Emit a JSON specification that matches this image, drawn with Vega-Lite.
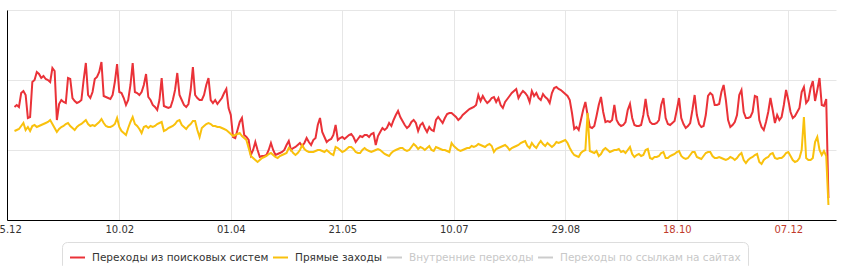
{
"$schema": "https://vega.github.io/schema/vega-lite/v6.json",
"width": 829,
"height": 210,
"autosize": {"type": "none"},
"padding": {"left": 7, "top": 10, "right": 8, "bottom": 46},
"background": "white",
"config": {"view": {"stroke": null}},
"data": {"values": [
{"date":"2013-12-25","a":1130,"b":890},{"date":"2013-12-26","a":1150,"b":900},{"date":"2013-12-27","a":1130,"b":910},{"date":"2013-12-28","a":1270,"b":940},{"date":"2013-12-29","a":1290,"b":970},{"date":"2013-12-30","a":1250,"b":900},{"date":"2013-12-31","a":1020,"b":930},
{"date":"2014-01-01","a":1030,"b":890},{"date":"2014-01-02","a":1380,"b":940},{"date":"2014-01-03","a":1400,"b":950},{"date":"2014-01-04","a":1480,"b":930},{"date":"2014-01-05","a":1460,"b":940},{"date":"2014-01-06","a":1420,"b":950},{"date":"2014-01-07","a":1440,"b":960},{"date":"2014-01-08","a":1410,"b":970},{"date":"2014-01-09","a":1400,"b":980},{"date":"2014-01-10","a":1380,"b":1000},{"date":"2014-01-11","a":1520,"b":960},{"date":"2014-01-12","a":1490,"b":920},{"date":"2014-01-13","a":1000,"b":880},{"date":"2014-01-14","a":1160,"b":910},{"date":"2014-01-15","a":1200,"b":930},{"date":"2014-01-16","a":1180,"b":940},{"date":"2014-01-17","a":1170,"b":960},{"date":"2014-01-18","a":1420,"b":970},{"date":"2014-01-19","a":1410,"b":940},{"date":"2014-01-20","a":1220,"b":920},{"date":"2014-01-21","a":1190,"b":900},{"date":"2014-01-22","a":1170,"b":930},{"date":"2014-01-23","a":1180,"b":950},{"date":"2014-01-24","a":1200,"b":960},{"date":"2014-01-25","a":1400,"b":980},{"date":"2014-01-26","a":1570,"b":1000},{"date":"2014-01-27","a":1250,"b":960},{"date":"2014-01-28","a":1220,"b":940},{"date":"2014-01-29","a":1280,"b":950},{"date":"2014-01-30","a":1410,"b":940},{"date":"2014-01-31","a":1430,"b":960},
{"date":"2014-02-01","a":1480,"b":980},{"date":"2014-02-02","a":1580,"b":1010},{"date":"2014-02-03","a":1240,"b":970},{"date":"2014-02-04","a":1230,"b":940},{"date":"2014-02-05","a":1220,"b":930},{"date":"2014-02-06","a":1210,"b":930},{"date":"2014-02-07","a":1250,"b":940},{"date":"2014-02-08","a":1380,"b":960},{"date":"2014-02-09","a":1560,"b":1020},{"date":"2014-02-10","a":1280,"b":930},{"date":"2014-02-11","a":1270,"b":890},{"date":"2014-02-12","a":1220,"b":870},{"date":"2014-02-13","a":1150,"b":850},{"date":"2014-02-14","a":1200,"b":920},{"date":"2014-02-15","a":1350,"b":980},{"date":"2014-02-16","a":1570,"b":1030},{"date":"2014-02-17","a":1280,"b":960},{"date":"2014-02-18","a":1270,"b":940},{"date":"2014-02-19","a":1250,"b":910},{"date":"2014-02-20","a":1280,"b":870},{"date":"2014-02-21","a":1350,"b":930},{"date":"2014-02-22","a":1460,"b":940},{"date":"2014-02-23","a":1230,"b":920},{"date":"2014-02-24","a":1200,"b":940},{"date":"2014-02-25","a":1150,"b":930},{"date":"2014-02-26","a":1130,"b":940},{"date":"2014-02-27","a":1100,"b":960},{"date":"2014-02-28","a":1200,"b":970},
{"date":"2014-03-01","a":1420,"b":980},{"date":"2014-03-02","a":1140,"b":890},{"date":"2014-03-03","a":1130,"b":900},{"date":"2014-03-04","a":1120,"b":920},{"date":"2014-03-05","a":1130,"b":930},{"date":"2014-03-06","a":1200,"b":940},{"date":"2014-03-07","a":1300,"b":960},{"date":"2014-03-08","a":1470,"b":990},{"date":"2014-03-09","a":1250,"b":1000},{"date":"2014-03-10","a":1200,"b":950},{"date":"2014-03-11","a":1150,"b":930},{"date":"2014-03-12","a":1130,"b":910},{"date":"2014-03-13","a":1160,"b":940},{"date":"2014-03-14","a":1300,"b":960},{"date":"2014-03-15","a":1530,"b":990},{"date":"2014-03-16","a":1250,"b":990},{"date":"2014-03-17","a":1220,"b":900},{"date":"2014-03-18","a":1200,"b":830},{"date":"2014-03-19","a":1200,"b":920},{"date":"2014-03-20","a":1250,"b":940},{"date":"2014-03-21","a":1350,"b":960},{"date":"2014-03-22","a":1420,"b":970},{"date":"2014-03-23","a":1200,"b":960},{"date":"2014-03-24","a":1170,"b":940},{"date":"2014-03-25","a":1200,"b":940},{"date":"2014-03-26","a":1160,"b":930},{"date":"2014-03-27","a":1190,"b":930},{"date":"2014-03-28","a":1220,"b":920},{"date":"2014-03-29","a":1270,"b":910},{"date":"2014-03-30","a":1310,"b":900},{"date":"2014-03-31","a":1120,"b":880},
{"date":"2014-04-01","a":1050,"b":860},{"date":"2014-04-02","a":830,"b":840},{"date":"2014-04-03","a":820,"b":850},{"date":"2014-04-04","a":900,"b":860},{"date":"2014-04-05","a":980,"b":870},{"date":"2014-04-06","a":1020,"b":840},{"date":"2014-04-07","a":850,"b":820},{"date":"2014-04-08","a":830,"b":800},{"date":"2014-04-09","a":800,"b":720},{"date":"2014-04-10","a":650,"b":640},{"date":"2014-04-11","a":700,"b":620},{"date":"2014-04-12","a":780,"b":600},{"date":"2014-04-13","a":700,"b":580},{"date":"2014-04-14","a":630,"b":600},{"date":"2014-04-15","a":640,"b":620},{"date":"2014-04-16","a":640,"b":630},{"date":"2014-04-17","a":650,"b":640},{"date":"2014-04-18","a":700,"b":660},{"date":"2014-04-19","a":770,"b":670},{"date":"2014-04-20","a":700,"b":650},{"date":"2014-04-21","a":650,"b":630},{"date":"2014-04-22","a":660,"b":620},{"date":"2014-04-23","a":670,"b":640},{"date":"2014-04-24","a":680,"b":650},{"date":"2014-04-25","a":700,"b":660},{"date":"2014-04-26","a":750,"b":670},{"date":"2014-04-27","a":790,"b":720},{"date":"2014-04-28","a":700,"b":700},{"date":"2014-04-29","a":720,"b":670},{"date":"2014-04-30","a":730,"b":650},
{"date":"2014-05-01","a":750,"b":670},{"date":"2014-05-02","a":770,"b":700},{"date":"2014-05-03","a":740,"b":750},{"date":"2014-05-04","a":770,"b":710},{"date":"2014-05-05","a":820,"b":690},{"date":"2014-05-06","a":780,"b":680},{"date":"2014-05-07","a":750,"b":680},{"date":"2014-05-08","a":800,"b":680},{"date":"2014-05-09","a":820,"b":690},{"date":"2014-05-10","a":950,"b":700},{"date":"2014-05-11","a":1020,"b":700},{"date":"2014-05-12","a":880,"b":690},{"date":"2014-05-13","a":830,"b":680},{"date":"2014-05-14","a":780,"b":700},{"date":"2014-05-15","a":800,"b":680},{"date":"2014-05-16","a":810,"b":660},{"date":"2014-05-17","a":850,"b":650},{"date":"2014-05-18","a":950,"b":730},{"date":"2014-05-19","a":800,"b":720},{"date":"2014-05-20","a":820,"b":700},{"date":"2014-05-21","a":830,"b":680},{"date":"2014-05-22","a":810,"b":690},{"date":"2014-05-23","a":830,"b":710},{"date":"2014-05-24","a":850,"b":730},{"date":"2014-05-25","a":860,"b":730},{"date":"2014-05-26","a":830,"b":710},{"date":"2014-05-27","a":780,"b":680},{"date":"2014-05-28","a":810,"b":670},{"date":"2014-05-29","a":840,"b":670},{"date":"2014-05-30","a":830,"b":700},{"date":"2014-05-31","a":850,"b":720},
{"date":"2014-06-01","a":850,"b":700},{"date":"2014-06-02","a":830,"b":690},{"date":"2014-06-03","a":860,"b":680},{"date":"2014-06-04","a":870,"b":690},{"date":"2014-06-05","a":750,"b":700},{"date":"2014-06-06","a":840,"b":710},{"date":"2014-06-07","a":880,"b":700},{"date":"2014-06-08","a":920,"b":680},{"date":"2014-06-09","a":900,"b":660},{"date":"2014-06-10","a":920,"b":650},{"date":"2014-06-11","a":970,"b":640},{"date":"2014-06-12","a":940,"b":670},{"date":"2014-06-13","a":1000,"b":690},{"date":"2014-06-14","a":1050,"b":700},{"date":"2014-06-15","a":1090,"b":710},{"date":"2014-06-16","a":1030,"b":720},{"date":"2014-06-17","a":990,"b":720},{"date":"2014-06-18","a":950,"b":700},{"date":"2014-06-19","a":920,"b":690},{"date":"2014-06-20","a":940,"b":700},{"date":"2014-06-21","a":980,"b":730},{"date":"2014-06-22","a":1000,"b":760},{"date":"2014-06-23","a":970,"b":740},{"date":"2014-06-24","a":890,"b":710},{"date":"2014-06-25","a":950,"b":730},{"date":"2014-06-26","a":970,"b":720},{"date":"2014-06-27","a":920,"b":700},{"date":"2014-06-28","a":880,"b":720},{"date":"2014-06-29","a":930,"b":740},{"date":"2014-06-30","a":900,"b":700},
{"date":"2014-07-01","a":890,"b":690},{"date":"2014-07-02","a":1000,"b":730},{"date":"2014-07-03","a":1030,"b":720},{"date":"2014-07-04","a":1000,"b":710},{"date":"2014-07-05","a":970,"b":700},{"date":"2014-07-06","a":1020,"b":700},{"date":"2014-07-07","a":1060,"b":690},{"date":"2014-07-08","a":1070,"b":680},{"date":"2014-07-09","a":1070,"b":770},{"date":"2014-07-10","a":1050,"b":740},{"date":"2014-07-11","a":1030,"b":720},{"date":"2014-07-12","a":1000,"b":700},{"date":"2014-07-13","a":1020,"b":690},{"date":"2014-07-14","a":1050,"b":700},{"date":"2014-07-15","a":1070,"b":710},{"date":"2014-07-16","a":1090,"b":720},{"date":"2014-07-17","a":1110,"b":720},{"date":"2014-07-18","a":1120,"b":740},{"date":"2014-07-19","a":1130,"b":730},{"date":"2014-07-20","a":1150,"b":740},{"date":"2014-07-21","a":1250,"b":760},{"date":"2014-07-22","a":1190,"b":750},{"date":"2014-07-23","a":1240,"b":740},{"date":"2014-07-24","a":1200,"b":730},{"date":"2014-07-25","a":1170,"b":750},{"date":"2014-07-26","a":1190,"b":760},{"date":"2014-07-27","a":1220,"b":740},{"date":"2014-07-28","a":1230,"b":680},{"date":"2014-07-29","a":1180,"b":710},{"date":"2014-07-30","a":1220,"b":720},{"date":"2014-07-31","a":1150,"b":730},
{"date":"2014-08-01","a":1120,"b":740},{"date":"2014-08-02","a":1180,"b":750},{"date":"2014-08-03","a":1210,"b":730},{"date":"2014-08-04","a":1240,"b":700},{"date":"2014-08-05","a":1270,"b":720},{"date":"2014-08-06","a":1290,"b":730},{"date":"2014-08-07","a":1310,"b":740},{"date":"2014-08-08","a":1220,"b":750},{"date":"2014-08-09","a":1260,"b":770},{"date":"2014-08-10","a":1290,"b":780},{"date":"2014-08-11","a":1270,"b":790},{"date":"2014-08-12","a":1240,"b":740},{"date":"2014-08-13","a":1180,"b":720},{"date":"2014-08-14","a":1290,"b":770},{"date":"2014-08-15","a":1240,"b":740},{"date":"2014-08-16","a":1270,"b":720},{"date":"2014-08-17","a":1220,"b":760},{"date":"2014-08-18","a":1200,"b":790},{"date":"2014-08-19","a":1260,"b":760},{"date":"2014-08-20","a":1230,"b":740},{"date":"2014-08-21","a":1210,"b":770},{"date":"2014-08-22","a":1170,"b":750},{"date":"2014-08-23","a":1270,"b":730},{"date":"2014-08-24","a":1320,"b":750},{"date":"2014-08-25","a":1330,"b":780},{"date":"2014-08-26","a":1310,"b":770},{"date":"2014-08-27","a":1300,"b":780},{"date":"2014-08-28","a":1280,"b":790},{"date":"2014-08-29","a":1260,"b":800},{"date":"2014-08-30","a":1240,"b":770},{"date":"2014-08-31","a":1200,"b":720},
{"date":"2014-09-01","a":1070,"b":680},{"date":"2014-09-02","a":910,"b":650},{"date":"2014-09-03","a":930,"b":640},{"date":"2014-09-04","a":900,"b":630},{"date":"2014-09-05","a":1000,"b":670},{"date":"2014-09-06","a":1100,"b":690},{"date":"2014-09-07","a":1180,"b":700},{"date":"2014-09-08","a":1050,"b":1070},{"date":"2014-09-09","a":930,"b":690},{"date":"2014-09-10","a":920,"b":680},{"date":"2014-09-11","a":940,"b":670},{"date":"2014-09-12","a":1040,"b":690},{"date":"2014-09-13","a":1150,"b":640},{"date":"2014-09-14","a":1230,"b":660},{"date":"2014-09-15","a":1080,"b":700},{"date":"2014-09-16","a":980,"b":720},{"date":"2014-09-17","a":990,"b":700},{"date":"2014-09-18","a":980,"b":680},{"date":"2014-09-19","a":1000,"b":690},{"date":"2014-09-20","a":1150,"b":700},{"date":"2014-09-21","a":1000,"b":700},{"date":"2014-09-22","a":960,"b":710},{"date":"2014-09-23","a":940,"b":680},{"date":"2014-09-24","a":950,"b":690},{"date":"2014-09-25","a":980,"b":670},{"date":"2014-09-26","a":1100,"b":700},{"date":"2014-09-27","a":1160,"b":730},{"date":"2014-09-28","a":1020,"b":660},{"date":"2014-09-29","a":950,"b":630},{"date":"2014-09-30","a":940,"b":650},
{"date":"2014-10-01","a":940,"b":660},{"date":"2014-10-02","a":950,"b":640},{"date":"2014-10-03","a":1050,"b":650},{"date":"2014-10-04","a":1210,"b":700},{"date":"2014-10-05","a":1050,"b":710},{"date":"2014-10-06","a":980,"b":620},{"date":"2014-10-07","a":960,"b":610},{"date":"2014-10-08","a":960,"b":630},{"date":"2014-10-09","a":970,"b":630},{"date":"2014-10-10","a":1000,"b":640},{"date":"2014-10-11","a":1150,"b":670},{"date":"2014-10-12","a":1220,"b":680},{"date":"2014-10-13","a":1020,"b":620},{"date":"2014-10-14","a":960,"b":620},{"date":"2014-10-15","a":950,"b":640},{"date":"2014-10-16","a":970,"b":650},{"date":"2014-10-17","a":990,"b":660},{"date":"2014-10-18","a":1100,"b":680},{"date":"2014-10-19","a":1220,"b":690},{"date":"2014-10-20","a":1020,"b":640},{"date":"2014-10-21","a":960,"b":620},{"date":"2014-10-22","a":920,"b":610},{"date":"2014-10-23","a":940,"b":620},{"date":"2014-10-24","a":970,"b":650},{"date":"2014-10-25","a":1100,"b":680},{"date":"2014-10-26","a":1250,"b":680},{"date":"2014-10-27","a":1050,"b":630},{"date":"2014-10-28","a":960,"b":620},{"date":"2014-10-29","a":930,"b":610},{"date":"2014-10-30","a":940,"b":640},{"date":"2014-10-31","a":1050,"b":670},
{"date":"2014-11-01","a":1240,"b":680},{"date":"2014-11-02","a":1270,"b":680},{"date":"2014-11-03","a":1250,"b":640},{"date":"2014-11-04","a":1150,"b":620},{"date":"2014-11-05","a":1150,"b":620},{"date":"2014-11-06","a":1160,"b":630},{"date":"2014-11-07","a":1280,"b":620},{"date":"2014-11-08","a":1350,"b":610},{"date":"2014-11-09","a":1200,"b":600},{"date":"2014-11-10","a":1000,"b":610},{"date":"2014-11-11","a":930,"b":630},{"date":"2014-11-12","a":950,"b":620},{"date":"2014-11-13","a":980,"b":600},{"date":"2014-11-14","a":1050,"b":620},{"date":"2014-11-15","a":1250,"b":650},{"date":"2014-11-16","a":1300,"b":670},{"date":"2014-11-17","a":1080,"b":600},{"date":"2014-11-18","a":1020,"b":570},{"date":"2014-11-19","a":1020,"b":600},{"date":"2014-11-20","a":1030,"b":620},{"date":"2014-11-21","a":1080,"b":630},{"date":"2014-11-22","a":1240,"b":650},{"date":"2014-11-23","a":1230,"b":660},{"date":"2014-11-24","a":1000,"b":580},{"date":"2014-11-25","a":930,"b":560},{"date":"2014-11-26","a":900,"b":600},{"date":"2014-11-27","a":980,"b":620},{"date":"2014-11-28","a":1080,"b":630},{"date":"2014-11-29","a":1220,"b":660},{"date":"2014-11-30","a":1100,"b":670},
{"date":"2014-12-01","a":970,"b":620},{"date":"2014-12-02","a":1050,"b":610},{"date":"2014-12-03","a":1000,"b":620},{"date":"2014-12-04","a":1030,"b":620},{"date":"2014-12-05","a":1150,"b":640},{"date":"2014-12-06","a":1300,"b":670},{"date":"2014-12-07","a":1200,"b":680},{"date":"2014-12-08","a":1080,"b":640},{"date":"2014-12-09","a":1020,"b":600},{"date":"2014-12-10","a":1040,"b":580},{"date":"2014-12-11","a":1080,"b":590},{"date":"2014-12-12","a":1120,"b":620},{"date":"2014-12-13","a":1280,"b":700},{"date":"2014-12-14","a":1330,"b":1030},{"date":"2014-12-15","a":1170,"b":620},{"date":"2014-12-16","a":1200,"b":600},{"date":"2014-12-17","a":1320,"b":600},{"date":"2014-12-18","a":1390,"b":620},{"date":"2014-12-19","a":1190,"b":780},{"date":"2014-12-20","a":1300,"b":830},{"date":"2014-12-21","a":1420,"b":700},{"date":"2014-12-22","a":1150,"b":650},{"date":"2014-12-23","a":1140,"b":690},{"date":"2014-12-24","a":1210,"b":640},{"date":"2014-12-25","a":220,"b":150}
]},
"transform": [{"fold": ["a", "b"], "as": ["k", "v"]}],
"mark": {"type": "line", "strokeWidth": 2, "interpolate": "linear"},
"encoding": {
  "x": {
    "field": "date", "type": "temporal",
    "scale": {"type": "utc", "domain": [{"year": 2013, "month": 12, "date": 21, "hours": 15, "minutes": 22, "utc": true}, {"year": 2014, "month": 12, "date": 28, "hours": 9, "minutes": 22, "utc": true}]},
    "axis": {
      "title": null,
      "values": [
        {"year": 2013, "month": 12, "date": 21, "hours": 15, "minutes": 22, "utc": true},
        {"year": 2014, "month": 2, "date": 10, "utc": true},
        {"year": 2014, "month": 4, "date": 1, "utc": true},
        {"year": 2014, "month": 5, "date": 21, "utc": true},
        {"year": 2014, "month": 7, "date": 10, "utc": true},
        {"year": 2014, "month": 8, "date": 29, "utc": true},
        {"year": 2014, "month": 10, "date": 18, "utc": true},
        {"year": 2014, "month": 12, "date": 7, "utc": true}
      ],
      "format": "%d.%m",
      "labelExpr": "datum.index == 0 ? '25.12' : datum.label",
      "labelFlush": false,
      "labelOverlap": false,
      "labelBound": false,
      "ticks": false,
      "domainColor": "#000000",
      "domainWidth": 1,
      "grid": true,
      "gridColor": "#e6e6e6",
      "labelFont": "DejaVu Sans",
      "labelFontSize": 10,
      "labelPadding": 4,
      "labelColor": {"expr": "(utcmonth(datum.value) == 9 && utcdate(datum.value) == 18) || (utcmonth(datum.value) == 11 && utcdate(datum.value) == 7) ? '#c0392b' : '#333333'"}
    }
  },
  "y": {
    "field": "v", "type": "quantitative",
    "scale": {"domain": [0, 2100], "nice": false},
    "axis": {"title": null, "values": [0, 700, 1400, 2100], "labels": false, "ticks": false, "domainColor": "#000000", "grid": true, "gridColor": "#e6e6e6"}
  },
  "color": {
    "field": "k", "type": "nominal",
    "scale": {"domain": ["a", "b", "c", "d"], "range": ["#ea3238", "#f9c10d", "#cccccc", "#cccccc"]},
    "legend": {
      "title": null,
      "orient": "none",
      "legendX": 55,
      "legendY": 232,
      "direction": "horizontal",
      "columns": 4,
      "symbolType": "stroke",
      "symbolSize": 225,
      "symbolStrokeWidth": 2,
      "labelFont": "DejaVu Sans",
      "labelFontSize": 10.5,
      "labelLimit": 400,
      "labelOffset": 6,
      "columnPadding": 0,
      "padding": 7,
      "strokeColor": "#dddddd",
      "cornerRadius": 5,
      "fillColor": "#ffffff",
      "labelExpr": "datum.label == 'a' ? 'Переходы из поисковых систем' : datum.label == 'b' ? 'Прямые заходы' : datum.label == 'c' ? 'Внутренние переходы' : 'Переходы по ссылкам на сайтах'",
      "labelColor": {"expr": "datum.value == 'c' || datum.value == 'd' ? '#c8c8c8' : '#333333'"}
    }
  }
}
}
